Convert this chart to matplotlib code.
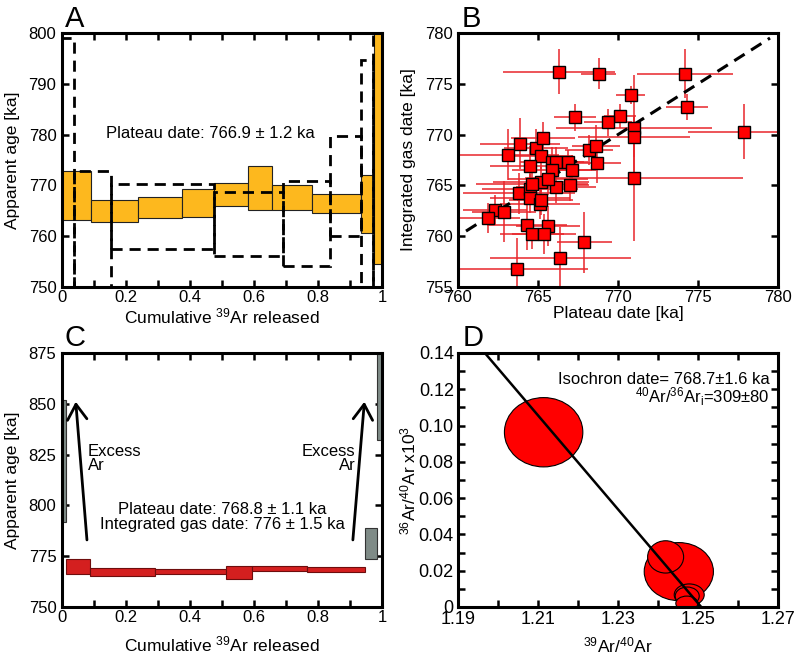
import numpy as np
import matplotlib
matplotlib.use('Agg')
import matplotlib.pyplot as plt
from matplotlib import ticker
from matplotlib.patches import Ellipse

plt.rcParams['font.family'] = ['Liberation Sans', 'DejaVu Sans']
plt.rcParams['mathtext.fontset'] = 'custom'
plt.rcParams['mathtext.rm'] = 'Liberation Sans'
plt.rcParams['mathtext.it'] = 'Liberation Sans:italic'
plt.rcParams['mathtext.bf'] = 'Liberation Sans:bold'

# ---- panel A : step heating, plateau
a_edges = [0, 0.090, 0.236, 0.376, 0.475, 0.581, 0.657, 0.780, 0.935, 0.976, 1.0]
a_top = [772.9, 767.2, 767.8, 769.2, 770.5, 773.8, 770.1, 768.3, 772.0, 802.0]
a_bot = [763.1, 762.7, 763.5, 763.8, 765.9, 765.2, 765.2, 764.6, 760.6, 754.5]
a_dash_edges = [0, 0.036, 0.153, 0.475, 0.691, 0.837, 0.935, 0.972, 1.0]
a_dash_top = [799.1, 772.9, 770.3, 768.6, 770.8, 779.7, 794.6, 810.0]
a_dash_bot = [745.0, 745.0, 757.5, 756.0, 754.1, 760.1, 745.0, 745.0]

# ---- panel B : plateau vs integrated gas
b_x = [766.3, 768.8, 774.2, 770.8, 774.3, 767.3, 770.1, 769.4, 771.0, 771.0,
       777.9, 771.0, 767.9, 766.4, 763.7, 763.1, 763.9, 764.9, 765.3, 765.2,
       764.5, 765.9, 766.1, 766.9, 767.1, 765.9, 768.2, 768.6, 768.7, 767.0,
       766.1, 765.2, 763.8, 764.5, 764.5, 765.1, 765.2, 762.3, 761.9, 762.9,
       764.3, 765.6, 764.6, 765.4, 764.6, 765.6]
b_y = [776.2, 776.0, 776.0, 773.9, 772.7, 771.7, 771.8, 771.2, 770.6, 769.8,
       770.3, 765.7, 759.4, 757.9, 756.8, 768.0, 769.1, 768.7, 769.7, 767.9,
       766.9, 767.3, 767.3, 767.3, 766.5, 766.5, 768.5, 768.9, 767.2, 765.0,
       764.8, 765.3, 764.2, 764.6, 763.8, 763.2, 763.6, 762.6, 761.8, 762.4,
       761.1, 761.0, 760.2, 760.2, 765.1, 765.6]
b_xerr = [3.5, 1.1, 3.0, 0.9, 1.3, 1.3, 1.0, 1.5, 4.9, 3.5,
          3.5, 6.8, 1.7, 4.4, 4.4, 3.2, 2.5, 2.0, 2.0, 2.0,
          2.5, 2.0, 1.5, 1.2, 1.5, 2.5, 1.5, 1.5, 1.5, 1.2,
          2.5, 3.0, 3.5, 3.0, 2.5, 2.5, 2.0, 2.0, 2.0, 2.0,
          2.5, 2.0, 2.0, 2.0, 3.5, 2.5]
b_yerr = [2.2, 1.5, 2.4, 0.9, 1.3, 1.3, 1.2, 1.3, 5.3, 2.0,
          2.7, 6.2, 3.0, 3.0, 3.0, 2.5, 2.5, 1.8, 1.5, 1.5,
          2.0, 1.5, 1.5, 1.2, 1.5, 1.5, 1.5, 2.0, 2.0, 1.5,
          1.5, 1.5, 2.0, 1.5, 1.5, 1.5, 1.5, 1.5, 1.5, 3.0,
          2.5, 2.0, 1.5, 2.0, 2.0, 1.5]
b_one_to_one = [760.5, 779.5]

# ---- panel C : step heating with excess Ar
c_edges = [0.012, 0.087, 0.292, 0.511, 0.595, 0.767, 0.948]
c_top = [773.8, 769.2, 768.7, 770.0, 770.0, 769.7]
c_bot = [766.4, 765.4, 766.4, 763.9, 767.5, 767.1]
c_gray_left = [0.0, 0.948, 0.984]
c_gray_right = [0.012, 0.984, 1.0]
c_gray_top = [852.0, 789.0, 877.0]
c_gray_bot = [792.0, 773.5, 832.0]
c_arrow_tail = [(0.078, 783.0), (0.909, 783.0)]
c_arrow_head = [(0.043, 851.0), (0.945, 851.0)]

# ---- panel D : inverse isochron
d_cx = [1.2114, 1.2452, 1.2419, 1.2478, 1.2473, 1.2472]
d_cy = [0.0963, 0.0195, 0.0276, 0.0067, 0.0060, 0.0020]
d_w = [0.0196, 0.0173, 0.0090, 0.0075, 0.0060, 0.0055]
d_h = [0.0382, 0.0320, 0.0178, 0.0120, 0.0100, 0.0080]
d_iso_x = [1.1967, 1.2508]
d_iso_y = [0.14, 0.0]
d_xticks = [1.19, 1.21, 1.23, 1.25, 1.27]

ORANGE = '#fdb81e'
RED = '#d41f1f'
GRAY = '#7f8b87'

fig = plt.figure(figsize=(8.02, 6.54), dpi=100)
axA = fig.add_axes([0.0773, 0.5612, 0.399, 0.3884])
axB = fig.add_axes([0.5711, 0.5612, 0.399, 0.3884])
axC = fig.add_axes([0.0773, 0.0719, 0.399, 0.3884])
axD = fig.add_axes([0.5711, 0.0719, 0.399, 0.3884])


def style(ax, size=12):
    for s in ax.spines.values():
        s.set_linewidth(2.2)
    ax.tick_params(which='both', direction='in', top=True, right=True,
                   length=5, width=1.8, labelsize=size)
    ax.tick_params(axis='x', pad=2)
    ax.tick_params(axis='y', pad=4)


def boxes(ax, edges, top, bot, **kw):
    left = np.array(edges[:-1])
    w = np.diff(edges)
    return ax.bar(left, np.array(top) - np.array(bot), w, bottom=bot,
                  align='edge', **kw)


# A
boxes(axA, a_edges, a_top, a_bot, color=ORANGE, edgecolor='#222222', linewidth=0.8, zorder=2)
boxes(axA, a_dash_edges, a_dash_top, a_dash_bot, fill=False, edgecolor='black',
      linewidth=2.0, linestyle=(0, (4, 2.5)), zorder=3)
axA.text(0.465, 780.2, 'Plateau date: 766.9 \u00b1 1.2 ka', ha='center', va='center', fontsize=12)
axA.set_xlim(0, 1)
axA.set_ylim(750, 800)
axA.xaxis.set_major_locator(ticker.MultipleLocator(0.2))
axA.xaxis.set_minor_locator(ticker.MultipleLocator(0.1))
axA.yaxis.set_major_locator(ticker.MultipleLocator(10))
axA.xaxis.set_major_formatter(ticker.FormatStrFormatter('%g'))
axA.set_xlabel('Cumulative $^{\\mathrm{39}}$Ar released', fontsize=12.5, labelpad=1)
axA.set_ylabel('Apparent age [ka]', fontsize=12.5, labelpad=6)
style(axA)

# B
axB.errorbar(b_x, b_y, xerr=b_xerr, yerr=b_yerr, fmt='none', ecolor='#e8262b',
             elinewidth=1.1, capsize=0, zorder=2)
axB.plot(b_one_to_one, b_one_to_one, color='black', lw=2.2, linestyle=(0, (4, 2.5)), zorder=3)
axB.plot(b_x, b_y, 's', ms=8.5, mfc='#ff0000', mec='black', mew=1.0, zorder=4)
axB.set_xlim(760, 780)
axB.set_ylim(755, 780)
axB.xaxis.set_major_locator(ticker.MultipleLocator(5))
axB.yaxis.set_major_locator(ticker.MultipleLocator(5))
axB.set_xlabel('Plateau date [ka]', fontsize=12.5, labelpad=1)
axB.set_ylabel('Integrated gas date [ka]', fontsize=12.5, labelpad=6)
style(axB)

# C
boxes(axC, c_edges, c_top, c_bot, color=RED, edgecolor='#6e0d0d', linewidth=0.8, zorder=2)
axC.bar(c_gray_left, np.array(c_gray_top) - np.array(c_gray_bot),
        np.array(c_gray_right) - np.array(c_gray_left), bottom=c_gray_bot,
        align='edge', color=GRAY, edgecolor='#333333', linewidth=0.8, zorder=2)
for tail, head in zip(c_arrow_tail, c_arrow_head):
    axC.annotate('', xy=head, xytext=tail,
                 arrowprops=dict(arrowstyle='->,head_length=0.55,head_width=0.35',
                                 lw=2.0, color='black', mutation_scale=20,
                                 shrinkA=0, shrinkB=0))
axC.text(0.081, 823, 'Excess\nAr', ha='left', va='center', fontsize=12, linespacing=0.95)
axC.text(0.917, 823, 'Excess\nAr', ha='right', va='center', fontsize=12,
         linespacing=0.95, multialignment='right')
axC.text(0.50, 794.4, 'Plateau date: 768.8 \u00b1 1.1 ka\nIntegrated gas date: 776 \u00b1 1.5 ka',
         ha='center', va='center', fontsize=12, linespacing=1.0)
axC.set_xlim(0, 1)
axC.set_ylim(750, 875)
axC.xaxis.set_major_locator(ticker.MultipleLocator(0.2))
axC.xaxis.set_minor_locator(ticker.MultipleLocator(0.1))
axC.yaxis.set_major_locator(ticker.MultipleLocator(25))
axC.xaxis.set_major_formatter(ticker.FormatStrFormatter('%g'))
axC.set_xlabel('Cumulative $^{\\mathrm{39}}$Ar released', fontsize=12.5, labelpad=7)
axC.set_ylabel('Apparent age [ka]', fontsize=12.5, labelpad=6)
style(axC)

# D
for cx, cy, w, h in zip(d_cx, d_cy, d_w, d_h):
    axD.add_patch(Ellipse((cx, cy), w, h, facecolor='#ff0000', edgecolor='black',
                          linewidth=0.8, zorder=2))
axD.plot(d_iso_x, d_iso_y, color='black', lw=1.8, zorder=3)
axD.text(1.2679, 0.1253, 'Isochron date= 768.7\u00b11.6 ka', ha='right', va='center', fontsize=12)
axD.text(1.2679, 0.1157, '$^{\\mathrm{40}}$Ar/$^{\\mathrm{36}}$Ar$_{\\mathrm{i}}$=309\u00b180',
         ha='right', va='center', fontsize=12)
axD.set_xlim(1.19, 1.27)
axD.set_ylim(0, 0.14)
axD.xaxis.set_major_locator(ticker.FixedLocator(d_xticks))
axD.xaxis.set_minor_locator(ticker.MultipleLocator(0.01))
axD.yaxis.set_major_locator(ticker.MultipleLocator(0.02))
axD.yaxis.set_minor_locator(ticker.MultipleLocator(0.01))
axD.xaxis.set_major_formatter(ticker.FormatStrFormatter('%.2f'))
axD.yaxis.set_major_formatter(ticker.FuncFormatter(lambda v, p: '0' if abs(v) < 1e-9 else '%.2f' % v))
axD.set_xlabel('$^{\\mathrm{39}}$Ar/$^{\\mathrm{40}}$Ar', fontsize=12.5, labelpad=5)
axD.set_ylabel('$^{\\mathrm{36}}$Ar/$^{\\mathrm{40}}$Ar x10$^{\\mathrm{3}}$', fontsize=12.5, labelpad=0)
style(axD, size=13)
axD.tick_params(axis='x', pad=3)
axD.tick_params(axis='y', pad=3)

for x, y, s in [(0.081, 0.959, 'A'), (0.576, 0.959, 'B'), (0.081, 0.471, 'C'), (0.577, 0.471, 'D')]:
    fig.text(x, y, s, fontsize=21, ha='left', va='baseline')

fig.savefig('out.png', dpi=100)
